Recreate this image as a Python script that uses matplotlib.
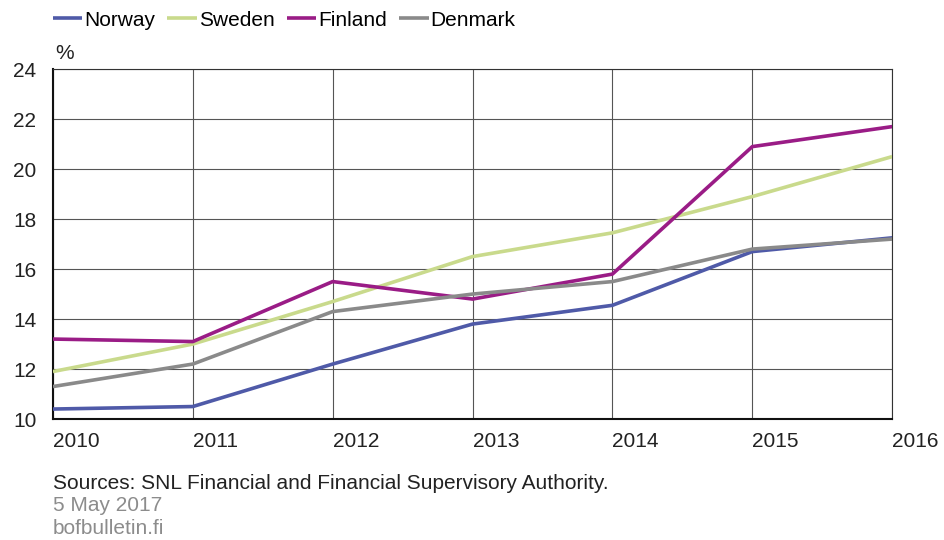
#!/usr/bin/env python3

"""
Nordic banks: capital ratio, 2010-2016
"""

import matplotlib
matplotlib.use("Agg")
import matplotlib.pyplot as plt

# ============================================================
# Data
# ============================================================

years = [2010, 2011, 2012, 2013, 2014, 2015, 2016]

norway = [10.4, 10.5, 12.2, 13.8, 14.55, 16.7, 17.25]
sweden = [11.9, 13.0, 14.7, 16.5, 17.45, 18.9, 20.5]
finland = [13.2, 13.1, 15.5, 14.8, 15.8, 20.9, 21.7]
denmark = [11.3, 12.2, 14.3, 15.0, 15.5, 16.8, 17.2]

series_names = ["Norway", "Sweden", "Finland", "Denmark"]
series_colors = ["#4f5aa8", "#c9da8c", "#9a1c86", "#8a8a8a"]

y_ticks = [10, 12, 14, 16, 18, 20, 22, 24]

# ============================================================
# Figure
# ============================================================

plt.rcParams["font.family"] = ["Liberation Sans", "DejaVu Sans"]

fs = 15

fig = plt.figure(figsize=(9.44, 5.40), dpi=100)
ax = fig.add_axes([0.0561, 0.224, 0.889, 0.648])

for values, name, color in zip(
    [norway, sweden, finland, denmark],
    series_names,
    series_colors
):
    ax.plot(years, values, color=color, linewidth=2.6, label=name,
            solid_capstyle="butt", zorder=3)

ax.set_xlim(2010, 2016)
ax.set_ylim(10, 24)
ax.set_xticks(years)
ax.set_yticks(y_ticks)
ax.set_xticklabels([str(y) for y in years], ha="left")
ax.tick_params(axis="both", length=0, labelsize=fs, colors="#222222")
ax.tick_params(axis="x", pad=9)
ax.tick_params(axis="y", pad=12)

ax.grid(True, color="#555555", linewidth=0.8)
ax.set_axisbelow(True)
for side, spine in ax.spines.items():
    spine.set_color("#333333")
    spine.set_linewidth(0.8)
ax.spines["left"].set_linewidth(1.5)
ax.spines["bottom"].set_linewidth(1.5)
ax.spines["left"].set_color("#111111")
ax.spines["bottom"].set_color("#111111")

# ------------------------------------------
# Legend and texts
# ------------------------------------------

fig.legend(
    loc="upper left",
    bbox_to_anchor=(0.036, 1.015),
    ncol=4,
    frameon=False,
    fontsize=fs,
    handlelength=1.4,
    handletextpad=0.1,
    columnspacing=0.6
)

fig.text(0.058, 0.89, "%", fontsize=fs, color="#222222")

fig.text(0.056, 0.095, "Sources: SNL Financial and Financial Supervisory Authority.",
         fontsize=fs, color="#222222")
fig.text(0.056, 0.053, "5 May 2017", fontsize=fs, color="#8c8c8c")
fig.text(0.056, 0.012, "bofbulletin.fi", fontsize=fs, color="#8c8c8c")

fig.savefig("out.png", dpi=100)
